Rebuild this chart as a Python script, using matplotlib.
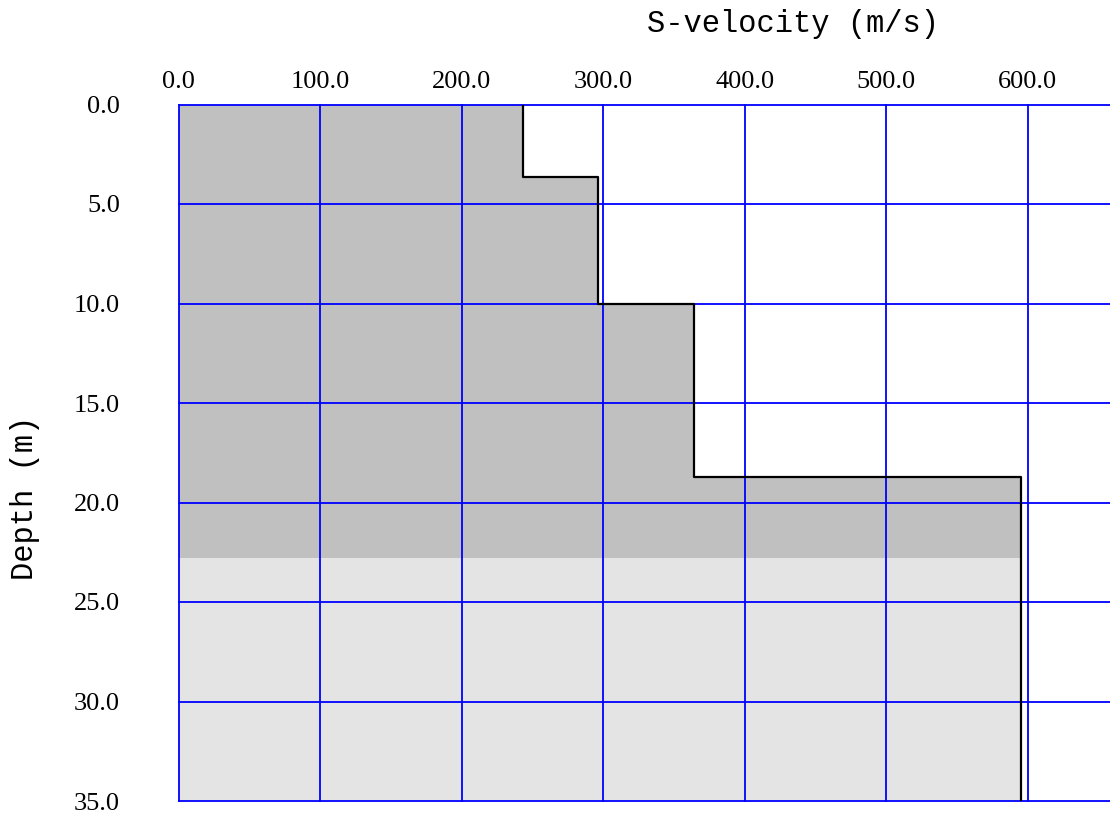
import numpy as np
import matplotlib.pyplot as plt

# layered shear-wave profile
layer_top = [0.0, 3.65, 10.0, 18.7]
vs = [243.0, 296.0, 364.0, 595.0]
max_depth = 35.0
resolved_depth = 22.8

x_ticks = [0, 100, 200, 300, 400, 500, 600]
y_ticks = [0, 5, 10, 15, 20, 25, 30, 35]

W, H = 1110, 815
fig = plt.figure(figsize=(W / 100, H / 100), dpi=100)
ax = fig.add_axes([178.5 / W, 14 / H, 1 - 178.5 / W, (801 - 104.5) / H])


def clip_profile(d0, d1):
    # step profile limited to depth range [d0, d1]
    tops = np.array(layer_top)
    vel = np.array(vs)
    keep = (tops < d1) & (np.append(tops[1:], max_depth) > d0)
    t = np.clip(tops[keep], d0, d1)
    v = vel[keep]
    t = np.append(t, d1)
    v = np.append(v, v[-1])
    return t, v


t, v = clip_profile(0, resolved_depth)
ax.fill_betweenx(t, 0, v, step="post", color="#c0c0c0", lw=0, zorder=1)
t, v = clip_profile(resolved_depth, max_depth)
ax.fill_betweenx(t, 0, v, step="post", color="#e4e4e4", lw=0, zorder=1)

# outline of the profile: vertical segment per layer joined by horizontal steps
bottoms = layer_top[1:] + [max_depth]
line_x = np.repeat(vs, 2)
line_y = np.ravel(np.column_stack([layer_top, bottoms]))
ax.plot(line_x, line_y, color="black", lw=1.6, zorder=4)

for xv in x_ticks:
    ax.axvline(xv, color="#0000ff", lw=1.3, zorder=3, clip_on=False)
for yv in y_ticks:
    ax.axhline(yv, color="#0000ff", lw=1.3, zorder=3, clip_on=False)

ax.set_xlim(0, 658)
ax.set_ylim(max_depth, 0)
for s in ax.spines.values():
    s.set_visible(False)

ax.xaxis.tick_top()
ax.set_xticks(x_ticks)
ax.set_xticklabels([f"{x:.1f}" for x in x_ticks], fontfamily="Liberation Serif", fontsize=19)
ax.set_yticks(y_ticks)
ax.set_yticklabels([f"{y:.1f}" for y in y_ticks], fontfamily="Liberation Serif", fontsize=19)
ax.tick_params(axis="x", length=0, pad=8)
ax.tick_params(axis="y", length=0, pad=42)

fig.text(793 / W, 1 - 24 / H, "S-velocity (m/s)", fontfamily="Liberation Mono",
         fontsize=22, ha="center", va="center")
fig.text(25 / W, 1 - 498 / H, "Depth (m)", fontfamily="Liberation Mono",
         fontsize=22, ha="center", va="center", rotation=90)

fig.savefig("out.png", dpi=100)
